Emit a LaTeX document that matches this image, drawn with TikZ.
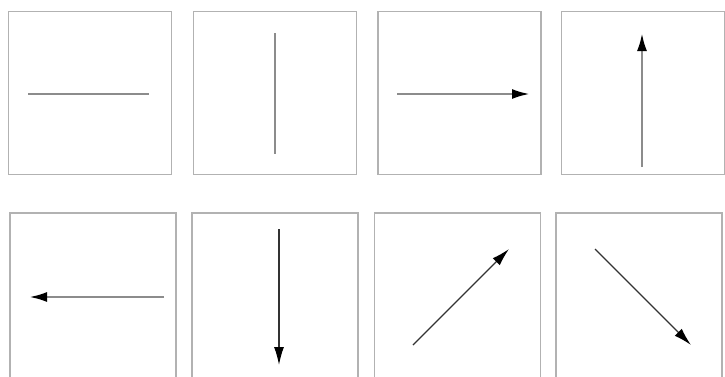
\documentclass[tikz,border=0pt]{standalone}
\usetikzlibrary{arrows.meta}
\begin{document}
\begin{tikzpicture}[
        x=0.5pt, y=-0.5pt,
        % Stiller
        panel/.style={rectangle, draw=black!30, line width=0.8pt, minimum width=81.5pt, minimum height=81.5pt, inner sep=0pt},
        panellow/.style={panel, minimum width=83pt, minimum height=83pt},
        greyline/.style={draw=black!45, line width=1.3pt},
        thinline/.style={draw=black!80, line width=0.7pt},
        arrow/.style={-{Latex[length=9pt, width=5pt, black]}}
    ]
        \useasboundingbox (0,0) rectangle (725,376);
        \clip (0,0) rectangle (725,376);

        % Kutular (ust sira)
        \node (p1) [panel] at (90,93) {};
        \node (p2) [panel] at (275,93) {};
        \node (p3) [panel] at (459.5,93) {};
        \node (p4) [panel] at (643,93) {};
        % Kutular (alt sira)
        \node (p5) [panellow] at (93,296) {};
        \node (p6) [panellow] at (275,296) {};
        \node (p7) [panellow] at (457.5,296) {};
        \node (p8) [panellow] at (639,296) {};

        % Uc noktalari
        \coordinate (h1) at (28,94);   \coordinate (h2) at (149,94);
        \coordinate (v1) at (275,33);  \coordinate (v2) at (275,154);
        \coordinate (r1) at (397,94);  \coordinate (r2) at (530,94);
        \coordinate (u1) at (642,167); \coordinate (u2) at (642,33);
        \coordinate (l1) at (164,297); \coordinate (l2) at (29,297);
        \coordinate (d1) at (279,229); \coordinate (d2) at (279,365);
        \coordinate (ne1) at (413,345); \coordinate (ne2) at (509,249);
        \coordinate (se1) at (595,249); \coordinate (se2) at (691,345);

        % Cizgiler ve oklar
        \draw[greyline] (h1) -- (h2);
        \draw[greyline] (v1) -- (v2);
        \draw[greyline, arrow] (r1) -- (r2);
        \draw[greyline, arrow] (u1) -- (u2);
        \draw[greyline, arrow] (l1) -- (l2);
        \draw[thinline, arrow] (d1) -- (d2);
        \draw[thinline, arrow] (ne1) -- (ne2);
        \draw[thinline, arrow] (se1) -- (se2);

    \end{tikzpicture}
\end{document}
